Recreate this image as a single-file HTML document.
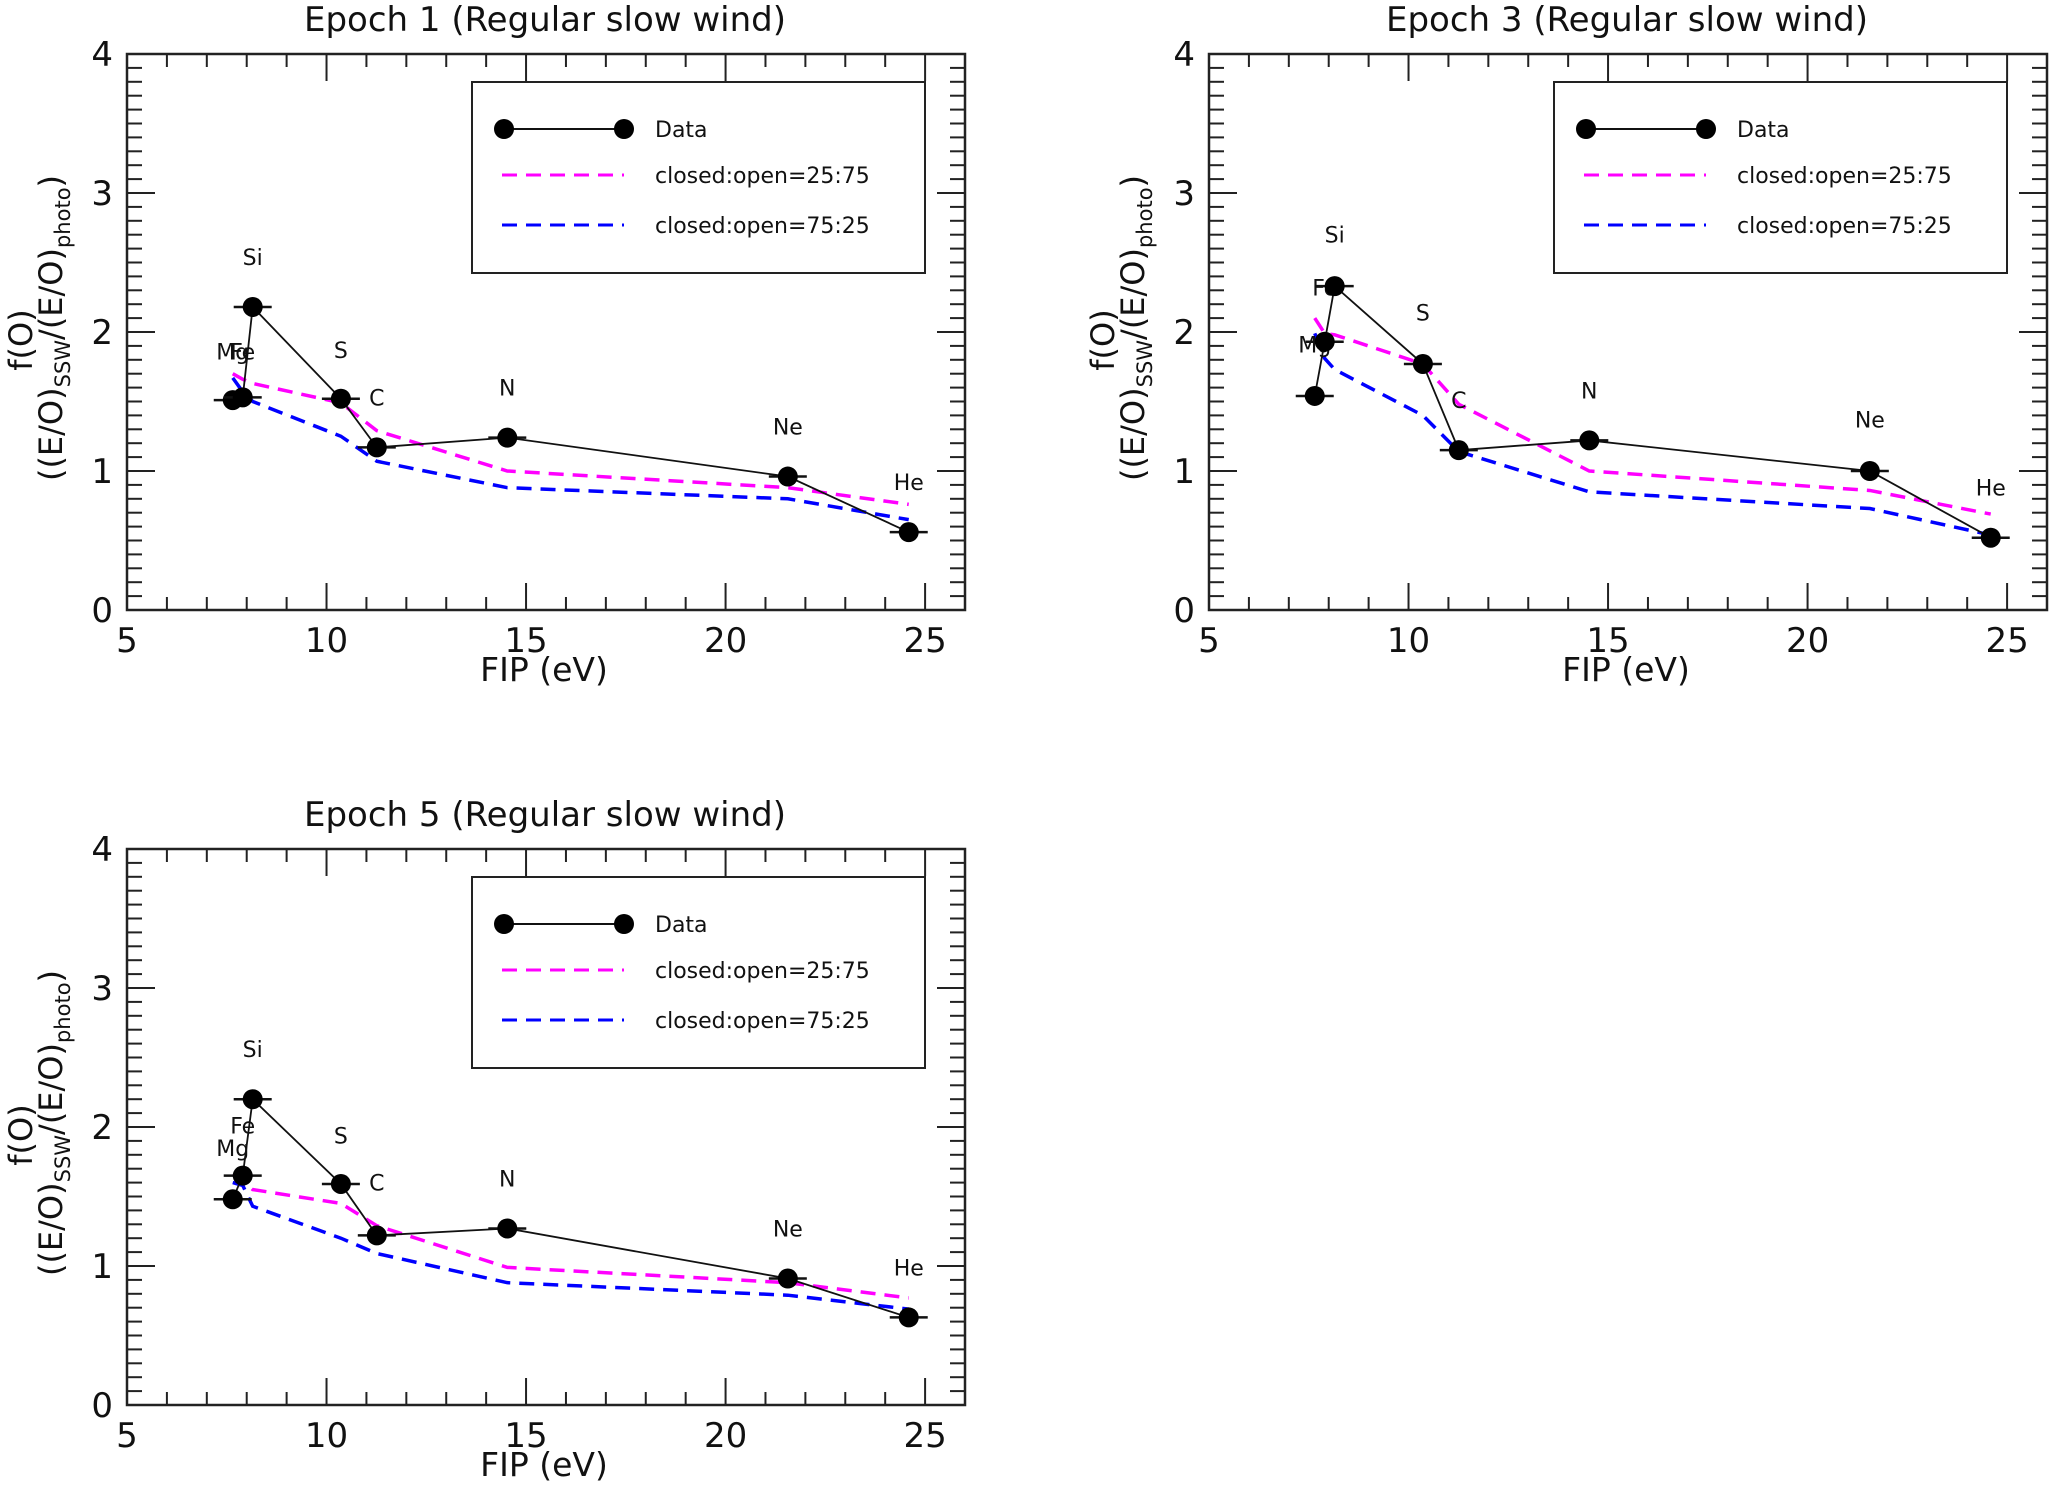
<!DOCTYPE html>
<html><head><meta charset="utf-8">
<style>
html,body{margin:0;padding:0;background:#fff;}
svg{display:block;font-family:"DejaVu Sans","Liberation Sans",sans-serif;}
</style></head>
<body>
<svg id="chart" width="2050" height="1487" viewBox="0 0 2050 1487" xmlns="http://www.w3.org/2000/svg"></svg>
<script>
const elements = ["Mg","Fe","Si","S","C","N","Ne","He"];
const fip = [7.65, 7.9, 8.15, 10.36, 11.26, 14.53, 21.56, 24.59];
const xTicks = [5,10,15,20,25];
const yTicks = [0,1,2,3,4];
const titles = ["Epoch 1 (Regular slow wind)","Epoch 3 (Regular slow wind)","Epoch 5 (Regular slow wind)"];
// Epoch 1
const data1 = [1.51,1.53,2.18,1.52,1.17,1.24,0.96,0.56];
const pink1 = [1.70,1.66,1.63,1.49,1.29,1.00,0.88,0.76];
const blue1 = [1.67,1.57,1.50,1.25,1.07,0.88,0.80,0.65];
const labY1 = [1.86,1.86,2.54,1.87,1.53,1.60,1.32,0.92];
// Epoch 3
const data3 = [1.54,1.93,2.33,1.77,1.15,1.22,1.00,0.52];
const pink3 = [2.10,1.99,1.98,1.77,1.48,1.00,0.86,0.69];
const blue3 = [1.99,1.81,1.73,1.40,1.14,0.85,0.73,0.54];
const labY3 = [1.91,2.32,2.70,2.14,1.51,1.58,1.37,0.88];
// Epoch 5
const data5 = [1.48,1.65,2.20,1.59,1.22,1.27,0.91,0.63];
const pink5 = [1.66,1.61,1.55,1.45,1.29,0.99,0.88,0.77];
const blue5 = [1.60,1.58,1.43,1.20,1.09,0.88,0.79,0.69];
const labY5 = [1.85,2.01,2.56,1.94,1.60,1.63,1.27,0.99];

const NS="http://www.w3.org/2000/svg";
const svg=document.getElementById('chart');
function mk(tag,attrs,parent){const e=document.createElementNS(NS,tag);for(const k in attrs)e.setAttribute(k,attrs[k]);(parent||svg).appendChild(e);return e;}

function panel(idx,L,T,title,dat,pink,blue,labY){
  const R=L+838,B=T+556;
  const g=mk('g',{});
  
  
  const sx=v=>L+(v-5)*(R-L)/21;
  const sy=v=>B-(v)*(B-T)/4;
  for(let v=5;v<=26;v++){
    const maj=v%5===0, len=maj?27:13, x=sx(v);
    mk('line',{x1:x,y1:B,x2:x,y2:B-len,stroke:'#222','stroke-width':2},g);
    mk('line',{x1:x,y1:T,x2:x,y2:T+len,stroke:'#222','stroke-width':2},g);
  }
  for(let i=0;i<=40;i++){
    const v=i/10, maj=i%10===0, len=maj?28:15, y=sy(v);
    mk('line',{x1:L,y1:y,x2:L+len,y2:y,stroke:'#222','stroke-width':2},g);
    mk('line',{x1:R,y1:y,x2:R-len,y2:y,stroke:'#222','stroke-width':2},g);
  }
  const fr=mk('rect',{x:L,y:T,width:R-L,height:B-T,fill:'none',stroke:'#222','stroke-width':2.5},g);
  
  
  xTicks.forEach(v=>{const t=mk('text',{x:sx(v),y:B+42,'font-size':34,'text-anchor':'middle',fill:'#111'},g);t.textContent=v;
    
    });
  yTicks.forEach(v=>{const t=mk('text',{x:L-14,y:sy(v)+12,'font-size':34,'text-anchor':'end',fill:'#111'},g);t.textContent=v;
    
    });
  const ti=mk('text',{x:(L+R)/2-1,y:T-23,'font-size':34,'text-anchor':'middle',fill:'#111'},g);ti.textContent=title;
  
  
  const xl=mk('text',{x:(L+R)/2-2,y:B+71,'font-size':33,'text-anchor':'middle',fill:'#111'},g);xl.textContent='FIP (eV)';
  
  
  const yc=(T+B)/2-4;
  const yl1=mk('text',{x:0,y:0,'font-size':32,'text-anchor':'middle',fill:'#111',transform:`translate(${L-95},${yc+12}) rotate(-90)`},g);yl1.textContent='f(O)';
  
  
  const yl2=mk('text',{x:0,y:0,'font-size':32,'text-anchor':'middle',fill:'#111',transform:`translate(${L-65},${yc}) rotate(-90)`},g);
  yl2.innerHTML='((E/O)<tspan font-size="21" dy="8">SSW</tspan><tspan dy="-8">/(E/O)</tspan><tspan font-size="21" dy="8">photo</tspan><tspan dy="-8">)</tspan>';
  
  
  const mp=arr=>arr.map((v,i)=>sx(fip[i])+','+sy(v)).join(' ');
  const pl=mk('polyline',{points:mp(pink),fill:'none',stroke:'#ff00ff','stroke-width':3.5,'stroke-dasharray':'15 9'},g);
  
  
  const bl=mk('polyline',{points:mp(blue),fill:'none',stroke:'#0000ff','stroke-width':3.5,'stroke-dasharray':'15 9'},g);
  
  
  const dl=mk('polyline',{points:mp(dat),fill:'none',stroke:'#111','stroke-width':1.8},g);
  
  
  dat.forEach((v,i)=>{
    const x=sx(fip[i]),y=sy(v);
    const eb=mk('line',{x1:x-19,y1:y,x2:x+19,y2:y,stroke:'#111','stroke-width':2.5},g);
    
    
    const c=mk('circle',{cx:x,cy:y,r:10,fill:'#000'},g);
    
    
    const lb=mk('text',{x:x,y:sy(labY[i])+8,'font-size':22,'text-anchor':'middle',fill:'#111'},g);lb.textContent=elements[i];
    
    
  });
  const lx=R-493, ly=T+28;
  const lg=mk('g',{},g);
  
  
  mk('rect',{x:lx,y:ly,width:453,height:191,fill:'#fff',stroke:'#222','stroke-width':2},lg);
  const r1=ly+47,r2=ly+93,r3=ly+143;
  mk('line',{x1:lx+32,y1:r1,x2:lx+152,y2:r1,stroke:'#111','stroke-width':2},lg);
  mk('circle',{cx:lx+32,cy:r1,r:10,fill:'#000'},lg);
  mk('circle',{cx:lx+152,cy:r1,r:10,fill:'#000'},lg);
  mk('line',{x1:lx+30,y1:r2,x2:lx+152,y2:r2,stroke:'#ff00ff','stroke-width':3,'stroke-dasharray':'15 9'},lg);
  mk('line',{x1:lx+30,y1:r3,x2:lx+152,y2:r3,stroke:'#0000ff','stroke-width':3,'stroke-dasharray':'15 9'},lg);
  [['Data',r1],['closed:open=25:75',r2],['closed:open=75:25',r3]].forEach(([s,y])=>{
    const t=mk('text',{x:lx+183,y:y+8,'font-size':22,fill:'#111'},lg);t.textContent=s;
    
    
  });
}
panel(0,127,54,titles[0],data1,pink1,blue1,labY1);
panel(1,1209,54,titles[1],data3,pink3,blue3,labY3);
panel(2,127,849,titles[2],data5,pink5,blue5,labY5);
</script>
</body></html>
